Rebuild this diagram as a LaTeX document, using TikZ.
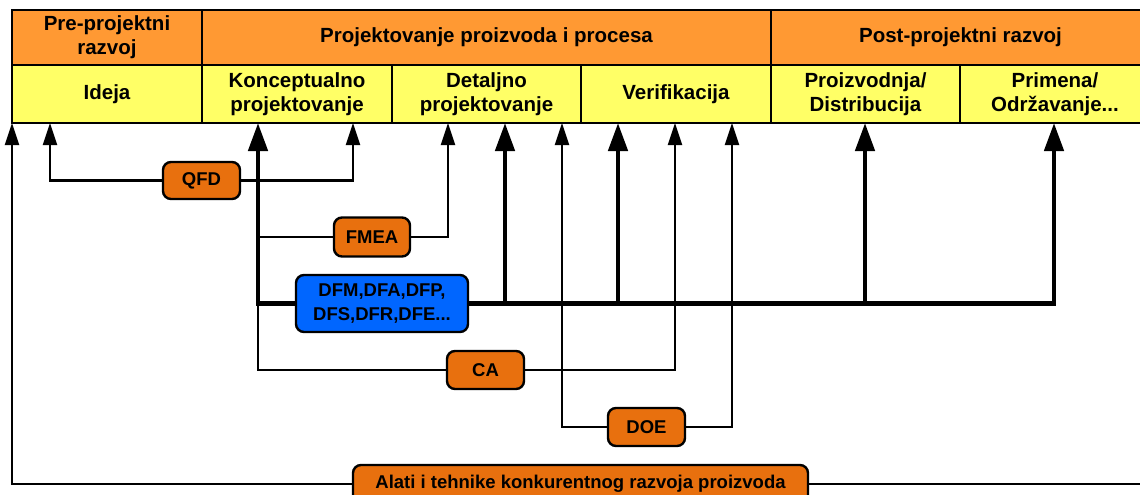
\documentclass[tikz,border=0pt]{standalone}
\usepackage{fontspec}
\setmainfont{Liberation Sans}
\usetikzlibrary{arrows.meta,backgrounds}
\definecolor{hdrorange}{HTML}{FF9933}
\definecolor{hdryellow}{HTML}{FFFF66}
\definecolor{toolorange}{HTML}{E8700E}
\definecolor{toolblue}{HTML}{0066FF}
\begin{document}
\begin{tikzpicture}[x=1pt,y=-1pt,
  hdr/.style={draw=black, line width=2.4pt, fill=hdrorange, inner sep=0pt, align=center,
    font=\fontsize{20.5}{24}\selectfont\bfseries},
  sub/.style={hdr, fill=hdryellow},
  tool/.style={draw=black, line width=2.4pt, fill=toolorange, rounded corners=8pt, inner sep=0pt,
    align=center, font=\fontsize{18.5}{24}\selectfont\bfseries},
  thinln/.style={line width=2.2pt},
  thinarr/.style={thinln, -{Triangle[length=22pt,width=14pt]}},
  thickln/.style={line width=4.6pt},
  thickarr/.style={thickln, -{Triangle[length=28pt,width=19pt]}},
]
\path[use as bounding box] (0,0) rectangle (1140,495);
\clip (0,0) rectangle (1140,495);

% header row 1
\node[hdr, minimum width=190pt, minimum height=55pt] (pre) at (107,37.5) {Pre-projektni\\razvoj};
\node[hdr, minimum width=569pt, minimum height=55pt] (proj) at (486.5,37.5) {Projektovanje proizvoda i procesa};
\node[hdr, minimum width=379pt, minimum height=55pt] (post) at (960.5,37.5) {Post-projektni razvoj};
% header row 2
\node[sub, minimum width=190pt, minimum height=58pt] (ideja) at (107,94) {Ideja};
\node[sub, minimum width=190pt, minimum height=58pt] (konc) at (297,94) {Konceptualno\\projektovanje};
\node[sub, minimum width=189pt, minimum height=58pt] (det) at (486.5,94) {Detaljno\\projektovanje};
\node[sub, minimum width=190pt, minimum height=58pt] (ver) at (676,94) {Verifikacija};
\node[sub, minimum width=189pt, minimum height=58pt] (proizv) at (865.5,94) {Proizvodnja/\\Distribucija};
\node[sub, minimum width=190pt, minimum height=58pt] (prim) at (1055,94) {Primena/\\Održavanje...};

% arrow tip points
\coordinate (tA) at (12,123);
\coordinate (tB) at (50,123);
\coordinate (tC) at (258,123);
\coordinate (tD) at (353,123);
\coordinate (tE) at (448,123);
\coordinate (tF) at (505,123);
\coordinate (tG) at (562,123);
\coordinate (tH) at (618,123);
\coordinate (tI) at (675,123);
\coordinate (tJ) at (732,123);
\coordinate (tK) at (865,123);
\coordinate (tL) at (1054,123);
\coordinate (rend) at (1150,484);

% tool boxes
\node[tool, minimum width=77pt, minimum height=37pt] (qfd) at (201.5,180.5) {QFD};
\node[tool, minimum width=76pt, minimum height=39pt] (fmea) at (372,237) {FMEA};
\node[tool, fill=toolblue, minimum width=172pt, minimum height=57pt] (dfm) at (382,303.5) {DFM,DFA,DFP,\\DFS,DFR,DFE...};
\node[tool, minimum width=77pt, minimum height=38pt] (ca) at (485.5,370) {CA};
\node[tool, minimum width=77pt, minimum height=38pt] (doe) at (646.5,427) {DOE};
\node[tool, minimum width=455pt, minimum height=38pt] (alati) at (580.5,484) {Alati i tehnike konkurentnog razvoja proizvoda};

% connectors, behind the boxes
\begin{scope}[on background layer]
  \fill[white] (0,0) rectangle (1140,495);
  % QFD
  \draw[thinarr] (qfd.west) -| (tB);
  \draw[thinarr] (qfd.east) -| (tD);
  % FMEA
  \draw[thinln] (fmea.west) -- (fmea.west -| tC);
  \draw[thinarr] (fmea.east) -| (tE);
  % CA
  \draw[thinln] (ca.west) -| (dfm.west -| tC);
  \draw[thinarr] (ca.east) -| (tI);
  % DOE
  \draw[thinarr] (doe.west) -| (tG);
  \draw[thinarr] (doe.east) -| (tJ);
  % DFM bus
  \draw[thickarr] (dfm.west) -| (tC);
  \draw[thickarr] (dfm.east) -| (tL);
  \draw[thickarr] (dfm.east -| tF) -- (tF);
  \draw[thickarr] (dfm.east -| tH) -- (tH);
  \draw[thickarr] (dfm.east -| tK) -- (tK);
  % Alati
  \draw[thinarr] (alati.west) -| (tA);
  \draw[thinln] (alati.east) -- (rend);
\end{scope}
\end{tikzpicture}
\end{document}
